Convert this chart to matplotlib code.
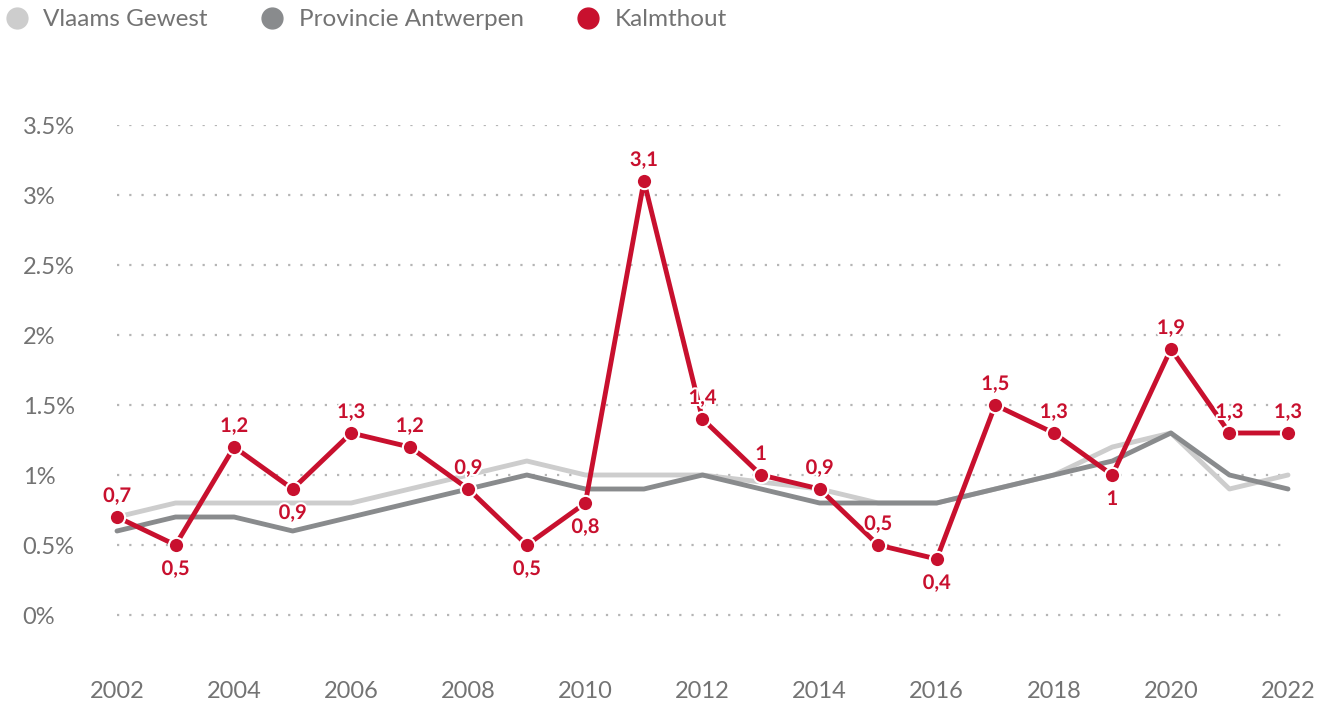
import numpy as np
import matplotlib.pyplot as plt
from matplotlib.lines import Line2D
import matplotlib.patheffects as pe

plt.rcParams['font.family'] = ['Lato', 'DejaVu Sans']

years = list(range(2002, 2023))
vlaams = [0.7, 0.8, 0.8, 0.8, 0.8, 0.9, 1.0, 1.1, 1.0, 1.0, 1.0, 0.95, 0.9, 0.8, 0.8, 0.9, 1.0, 1.2, 1.3, 0.9, 1.0]
antwerpen = [0.6, 0.7, 0.7, 0.6, 0.7, 0.8, 0.9, 1.0, 0.9, 0.9, 1.0, 0.9, 0.8, 0.8, 0.8, 0.9, 1.0, 1.1, 1.3, 1.0, 0.9]
kalmthout = [0.7, 0.5, 1.2, 0.9, 1.3, 1.2, 0.9, 0.5, 0.8, 3.1, 1.4, 1.0, 0.9, 0.5, 0.4, 1.5, 1.3, 1.0, 1.9, 1.3, 1.3]
below = [2003, 2005, 2009, 2010, 2016, 2019]

c_light = "#cdcdcd"
c_dark = "#898b8d"
c_red = "#c8102e"
c_text = "#737373"

fig = plt.figure(figsize=(13.3, 7.06), dpi=100)
ax = fig.add_axes([117/1330, 1-678/706, (1288-117)/1330, (678-125)/706])

ax.plot(years, vlaams, color=c_light, lw=3.5, solid_capstyle="round", clip_on=False, zorder=2)
ax.plot(years, antwerpen, color=c_dark, lw=3.5, solid_capstyle="round", clip_on=False, zorder=3)
ax.plot(years, kalmthout, color=c_red, lw=3.5, marker="o", markersize=11,
        markeredgecolor="white", markeredgewidth=1.5, clip_on=False, zorder=4)

for x, v in zip(years, kalmthout):
    lbl = ("%g" % v).replace(".", ",")
    off = -24 if x in below else 21
    ax.annotate(lbl, (x, v), xytext=(0, off), textcoords="offset pixels",
                ha="center", va="center", fontsize=14.5, fontweight="bold", color=c_red,
                path_effects=[pe.withStroke(linewidth=3, foreground="white")], zorder=5)

ax.set_xlim(2002, 2022)
ax.set_ylim(-0.45, 3.5)
ax.set_yticks(np.arange(0, 3.51, 0.5))
ax.set_yticklabels(["0%", "0.5%", "1%", "1.5%", "2%", "2.5%", "3%", "3.5%"])
ax.set_xticks(range(2002, 2023, 2))
for t in ax.get_yticklabels():
    t.set_ha("left")
ax.tick_params(axis="y", length=0, pad=68, labelsize=17, labelcolor=c_text)
ax.tick_params(axis="x", length=0, pad=2, labelsize=17, labelcolor=c_text)
for s in ax.spines.values():
    s.set_visible(False)
for yv in np.arange(0, 3.51, 0.5):
    ax.axhline(yv, color="#b5b5b5", lw=1.6, ls=(0, (1, 4.5)), zorder=1)

handles = [Line2D([], [], ls="none", marker="o", markersize=15, color=c) for c in (c_light, c_dark, c_red)]
fig.legend(handles, ["Vlaams Gewest", "Provincie Antwerpen", "Kalmthout"], loc="upper left",
           bbox_to_anchor=(4.5/1330, 1-9/706), ncol=3, frameon=False, handletextpad=0.6,
           columnspacing=2.15, handlelength=1.0, borderpad=0, borderaxespad=0,
           prop={"size": 17.5}, labelcolor=c_text)

fig.savefig("out.png", dpi=100)
